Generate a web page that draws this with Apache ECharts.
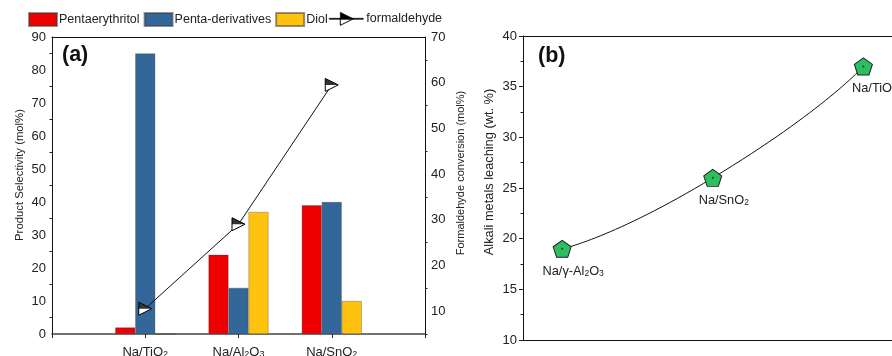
<!DOCTYPE html>
<html><head><meta charset="utf-8">
<script src="https://cdn.jsdelivr.net/npm/echarts@6/dist/echarts.min.js"></script>
<style>html,body{margin:0;padding:0;background:#fff}#c{width:892px;height:356px}</style>
</head><body><div id="c"></div>
<script>
// ---- data (a) ----
const catalystsA = ['Na/TiO{s|2}', 'Na/Al{s|2}O{s|3}', 'Na/SnO{s|2}'];
const pentaerythritol = [2, 24, 39];
const pentaDerivatives = [85, 14, 40];
const diol = [0, 37, 10];
const formaldehydeConv = [10.5, 29, 59.5];
// ---- data (b) ----
const catalystsB = ['Na/γ-Al{s|2}O{s|3}', 'Na/SnO{s|2}', 'Na/TiO{s|2}'];
const catalystPosB = [1, 2, 3];
const leaching = [19, 26, 37];

const FONT = 'Liberation Sans, Arial, sans-serif';
const pad = a => [null, ...a, null];
const catsA = ['', ...catalystsA, ''];
const richSub = { s: { fontSize: 9, fontFamily: FONT, color: '#222', verticalAlign: 'bottom', lineHeight: 9, padding: [6, 0, 0, 0] } };

const triFull = 'path://M0,0 L12,6 L0,12 Z';
const triTop = 'path://M0,0 L12,6 L0,6 Z';
const legendIconF = 'path://M0,6 L34,6 L34,7 L0,7 Z M11,0 L24,6.5 L11,6.5 Z M11,6.5 L11,13 L24,6.5 L11,13 Z';
const pentagon = 'path://M50,0 L97.55,34.55 L79.39,90.45 L20.61,90.45 L2.45,34.55 Z';

const bStyle = c => ({ color: c, borderColor: 'rgba(60,60,60,0.55)', borderWidth: 0.6 });
const axisTxt = { color: '#222', fontFamily: FONT, fontSize: 13 };
const nameTxt = (size, padLeft) => ({ color: '#222', fontFamily: FONT, fontSize: size, padding: [0, 0, 0, padLeft] });
const legTxt = { fontFamily: FONT, fontSize: 12.5, color: '#222', padding: [0, 0, 0, -3] };

const chart = echarts.init(document.getElementById('c'), null, { renderer: 'canvas' });
chart.setOption({
  animation: false,
  backgroundColor: '#fff',
  textStyle: { fontFamily: FONT },
  title: [
    { text: '(a)', left: 62, top: 44, padding: 0, textStyle: { fontFamily: FONT, fontWeight: 'bold', fontSize: 21.5, color: '#111' } },
    { text: '(b)', left: 538, top: 45, padding: 0, textStyle: { fontFamily: FONT, fontWeight: 'bold', fontSize: 21.5, color: '#111' } }
  ],
  legend: [
    { data: ['Pentaerythritol', 'Penta-derivatives', 'Diol'], left: 28, top: 12, padding: 0, itemWidth: 28, itemHeight: 13, itemGap: 4, icon: 'rect', textStyle: legTxt },
    { data: [{ name: 'formaldehyde', icon: legendIconF, itemStyle: { color: '#000', borderColor: '#000', borderWidth: 0.6 } }],
      left: 329, top: 12, padding: 0, itemWidth: 34, itemHeight: 13, textStyle: { ...legTxt, padding: [0, 0, 0, -2] } }
  ],
  grid: [
    { left: 52, right: 467, top: 37, bottom: 19, outerBoundsMode: 'none', containLabel: false },
    { left: 523, right: 0, top: 36, bottom: 16, outerBoundsMode: 'none', containLabel: false }
  ],
  xAxis: [
    { type: 'category', gridIndex: 0, data: catsA, boundaryGap: false,
      axisLine: { lineStyle: { color: '#444', width: 1.5 } },
      axisTick: { length: 4, lineStyle: { color: '#222' } },
      axisLabel: { ...axisTxt, margin: 9, interval: 0, rich: richSub } },
    { type: 'category', gridIndex: 0, data: catsA, boundaryGap: false, position: 'top',
      axisLine: { lineStyle: { color: '#111' } }, axisTick: { show: false }, axisLabel: { show: false } },
    { type: 'value', gridIndex: 1, min: 0.74, max: 3.19,
      axisLine: { show: true, onZero: false, lineStyle: { color: '#111' } }, axisTick: { show: false }, axisLabel: { show: false }, splitLine: { show: false } },
    { type: 'value', gridIndex: 1, min: 0.74, max: 3.19, position: 'top',
      axisLine: { show: true, onZero: false, lineStyle: { color: '#111' } }, axisTick: { show: false }, axisLabel: { show: false }, splitLine: { show: false } }
  ],
  yAxis: [
    { type: 'value', gridIndex: 0, min: -0.9, max: 90, splitNumber: 9,
      name: 'Product Selectivity (mol%)', nameLocation: 'middle', nameGap: 27, nameTextStyle: nameTxt(11.3, 24),
      axisLine: { show: true, lineStyle: { color: '#111' } },
      axisTick: { length: 4, lineStyle: { color: '#222' } },
      minorTick: { show: true, splitNumber: 2, length: 2.5, lineStyle: { color: '#222' } },
      axisLabel: { ...axisTxt, margin: 6, showMinLabel: false }, splitLine: { show: false } },
    { type: 'value', gridIndex: 0, min: 4.3, max: 70, splitNumber: 7, position: 'right',
      name: 'Formaldehyde conversion (mol%)', nameLocation: 'middle', nameGap: 30, nameTextStyle: nameTxt(11, 28),
      axisLine: { show: true, lineStyle: { color: '#111' } },
      axisTick: { length: 4, lineStyle: { color: '#222' } },
      minorTick: { show: true, splitNumber: 2, length: 2.5, lineStyle: { color: '#222' } },
      axisLabel: { ...axisTxt, margin: 6, showMinLabel: false }, splitLine: { show: false } },
    { type: 'value', gridIndex: 1, min: 10, max: 40, interval: 5,
      name: 'Alkali metals leaching (wt. %)', nameLocation: 'middle', nameGap: 27, nameTextStyle: nameTxt(12.8, 32),
      axisLine: { show: true, lineStyle: { color: '#111' } },
      axisTick: { length: 4, lineStyle: { color: '#222' } },
      minorTick: { show: true, splitNumber: 2, length: 2.5, lineStyle: { color: '#222' } },
      axisLabel: { ...axisTxt, margin: 6 }, splitLine: { show: false } }
  ],
  series: [
    { name: 'Pentaerythritol', type: 'bar', xAxisIndex: 0, yAxisIndex: 0, data: pad(pentaerythritol), barWidth: 20, barGap: '0%', itemStyle: bStyle('#EE0000') },
    { name: 'Penta-derivatives', type: 'bar', xAxisIndex: 0, yAxisIndex: 0, data: pad(pentaDerivatives), barWidth: 20, barGap: '0%', itemStyle: bStyle('#336699') },
    { name: 'Diol', type: 'bar', xAxisIndex: 0, yAxisIndex: 0, data: pad(diol), barWidth: 20, barGap: '0%', itemStyle: bStyle('#FFC30F') },
    { name: 'formaldehyde', type: 'line', xAxisIndex: 0, yAxisIndex: 1, data: pad(formaldehydeConv), z: 5,
      lineStyle: { color: '#111', width: 1 }, symbol: triFull, symbolSize: [13, 13], showAllSymbol: true,
      itemStyle: { color: '#fff', borderColor: '#000', borderWidth: 1 } },
    { name: 'formaldehyde-top', type: 'scatter', xAxisIndex: 0, yAxisIndex: 1, data: pad(formaldehydeConv), z: 6,
      symbol: triTop, symbolSize: [13, 6.5], symbolOffset: [0, -3.25], itemStyle: { color: '#000' }, silent: true },
    { name: 'leaching', type: 'line', xAxisIndex: 2, yAxisIndex: 2, smooth: 0.7, z: 5,
      data: catalystPosB.map((x, i) => [x, leaching[i]]),
      lineStyle: { color: '#111', width: 1 }, symbol: pentagon, symbolSize: [18, 17],
      itemStyle: { color: '#2DBE5F', borderColor: '#222', borderWidth: 1 },
      label: { show: true, position: 'bottom', distance: 7, offset: [11, 0], color: '#222', fontFamily: FONT, fontSize: 12.8,
        formatter: p => catalystsB[p.dataIndex], rich: { s: { fontSize: 8.5, fontFamily: FONT, color: '#222', verticalAlign: 'bottom', lineHeight: 8, padding: [5, 0, 0, 0] } } } },
    { name: 'leaching-dot', type: 'scatter', xAxisIndex: 2, yAxisIndex: 2, z: 6, silent: true,
      data: catalystPosB.map((x, i) => [x, leaching[i]]), symbol: 'circle', symbolSize: 2, itemStyle: { color: '#222' } }
  ]
});
</script></body></html>
